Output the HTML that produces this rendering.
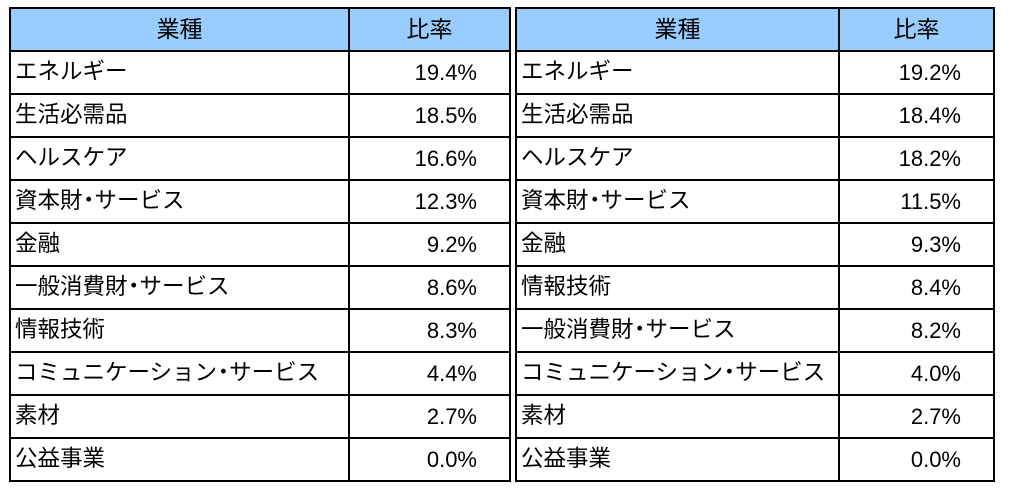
<!DOCTYPE html>
<html><head><meta charset="utf-8"><style>
body{margin:0;width:1024px;height:489px;background:#fff;position:relative;overflow:hidden;font-family:"Liberation Sans","Noto Sans CJK JP",sans-serif;}
table{position:absolute;top:7px;border-collapse:collapse;table-layout:fixed;}
tr{height:43px;}
td,th{border:2px solid #000;height:41px;padding:0;font-size:22px;font-weight:normal;color:#000;line-height:1;white-space:nowrap;overflow:hidden;}
th{background:#99ccff;text-align:center;font-size:23px;}
td.n{text-align:left;padding-left:4px;font-size:22.5px;}
td.v{text-align:right;padding-right:32px;}
.d{display:inline-block;width:12px;text-indent:-5px;overflow:visible;}
</style></head><body>
<table style="left:9px;width:500px">
<colgroup><col style="width:339px"><col style="width:161px"></colgroup>
<tr><th>業種</th><th>比率</th></tr>
<tr><td class="n">エネルギー</td><td class="v">19.4%</td></tr>
<tr><td class="n">生活必需品</td><td class="v">18.5%</td></tr>
<tr><td class="n">ヘルスケア</td><td class="v">16.6%</td></tr>
<tr><td class="n">資本財<span class="d">・</span>サービス</td><td class="v">12.3%</td></tr>
<tr><td class="n">金融</td><td class="v">9.2%</td></tr>
<tr><td class="n">一般消費財<span class="d">・</span>サービス</td><td class="v">8.6%</td></tr>
<tr><td class="n">情報技術</td><td class="v">8.3%</td></tr>
<tr><td class="n">コミュニケーション<span class="d">・</span>サービス</td><td class="v">4.4%</td></tr>
<tr><td class="n">素材</td><td class="v">2.7%</td></tr>
<tr><td class="n">公益事業</td><td class="v">0.0%</td></tr>
</table>
<table style="left:515px;width:478px">
<colgroup><col style="width:323px"><col style="width:155px"></colgroup>
<tr><th>業種</th><th>比率</th></tr>
<tr><td class="n">エネルギー</td><td class="v">19.2%</td></tr>
<tr><td class="n">生活必需品</td><td class="v">18.4%</td></tr>
<tr><td class="n">ヘルスケア</td><td class="v">18.2%</td></tr>
<tr><td class="n">資本財<span class="d">・</span>サービス</td><td class="v">11.5%</td></tr>
<tr><td class="n">金融</td><td class="v">9.3%</td></tr>
<tr><td class="n">情報技術</td><td class="v">8.4%</td></tr>
<tr><td class="n">一般消費財<span class="d">・</span>サービス</td><td class="v">8.2%</td></tr>
<tr><td class="n">コミュニケーション<span class="d">・</span>サービス</td><td class="v">4.0%</td></tr>
<tr><td class="n">素材</td><td class="v">2.7%</td></tr>
<tr><td class="n">公益事業</td><td class="v">0.0%</td></tr>
</table>
</body></html>
